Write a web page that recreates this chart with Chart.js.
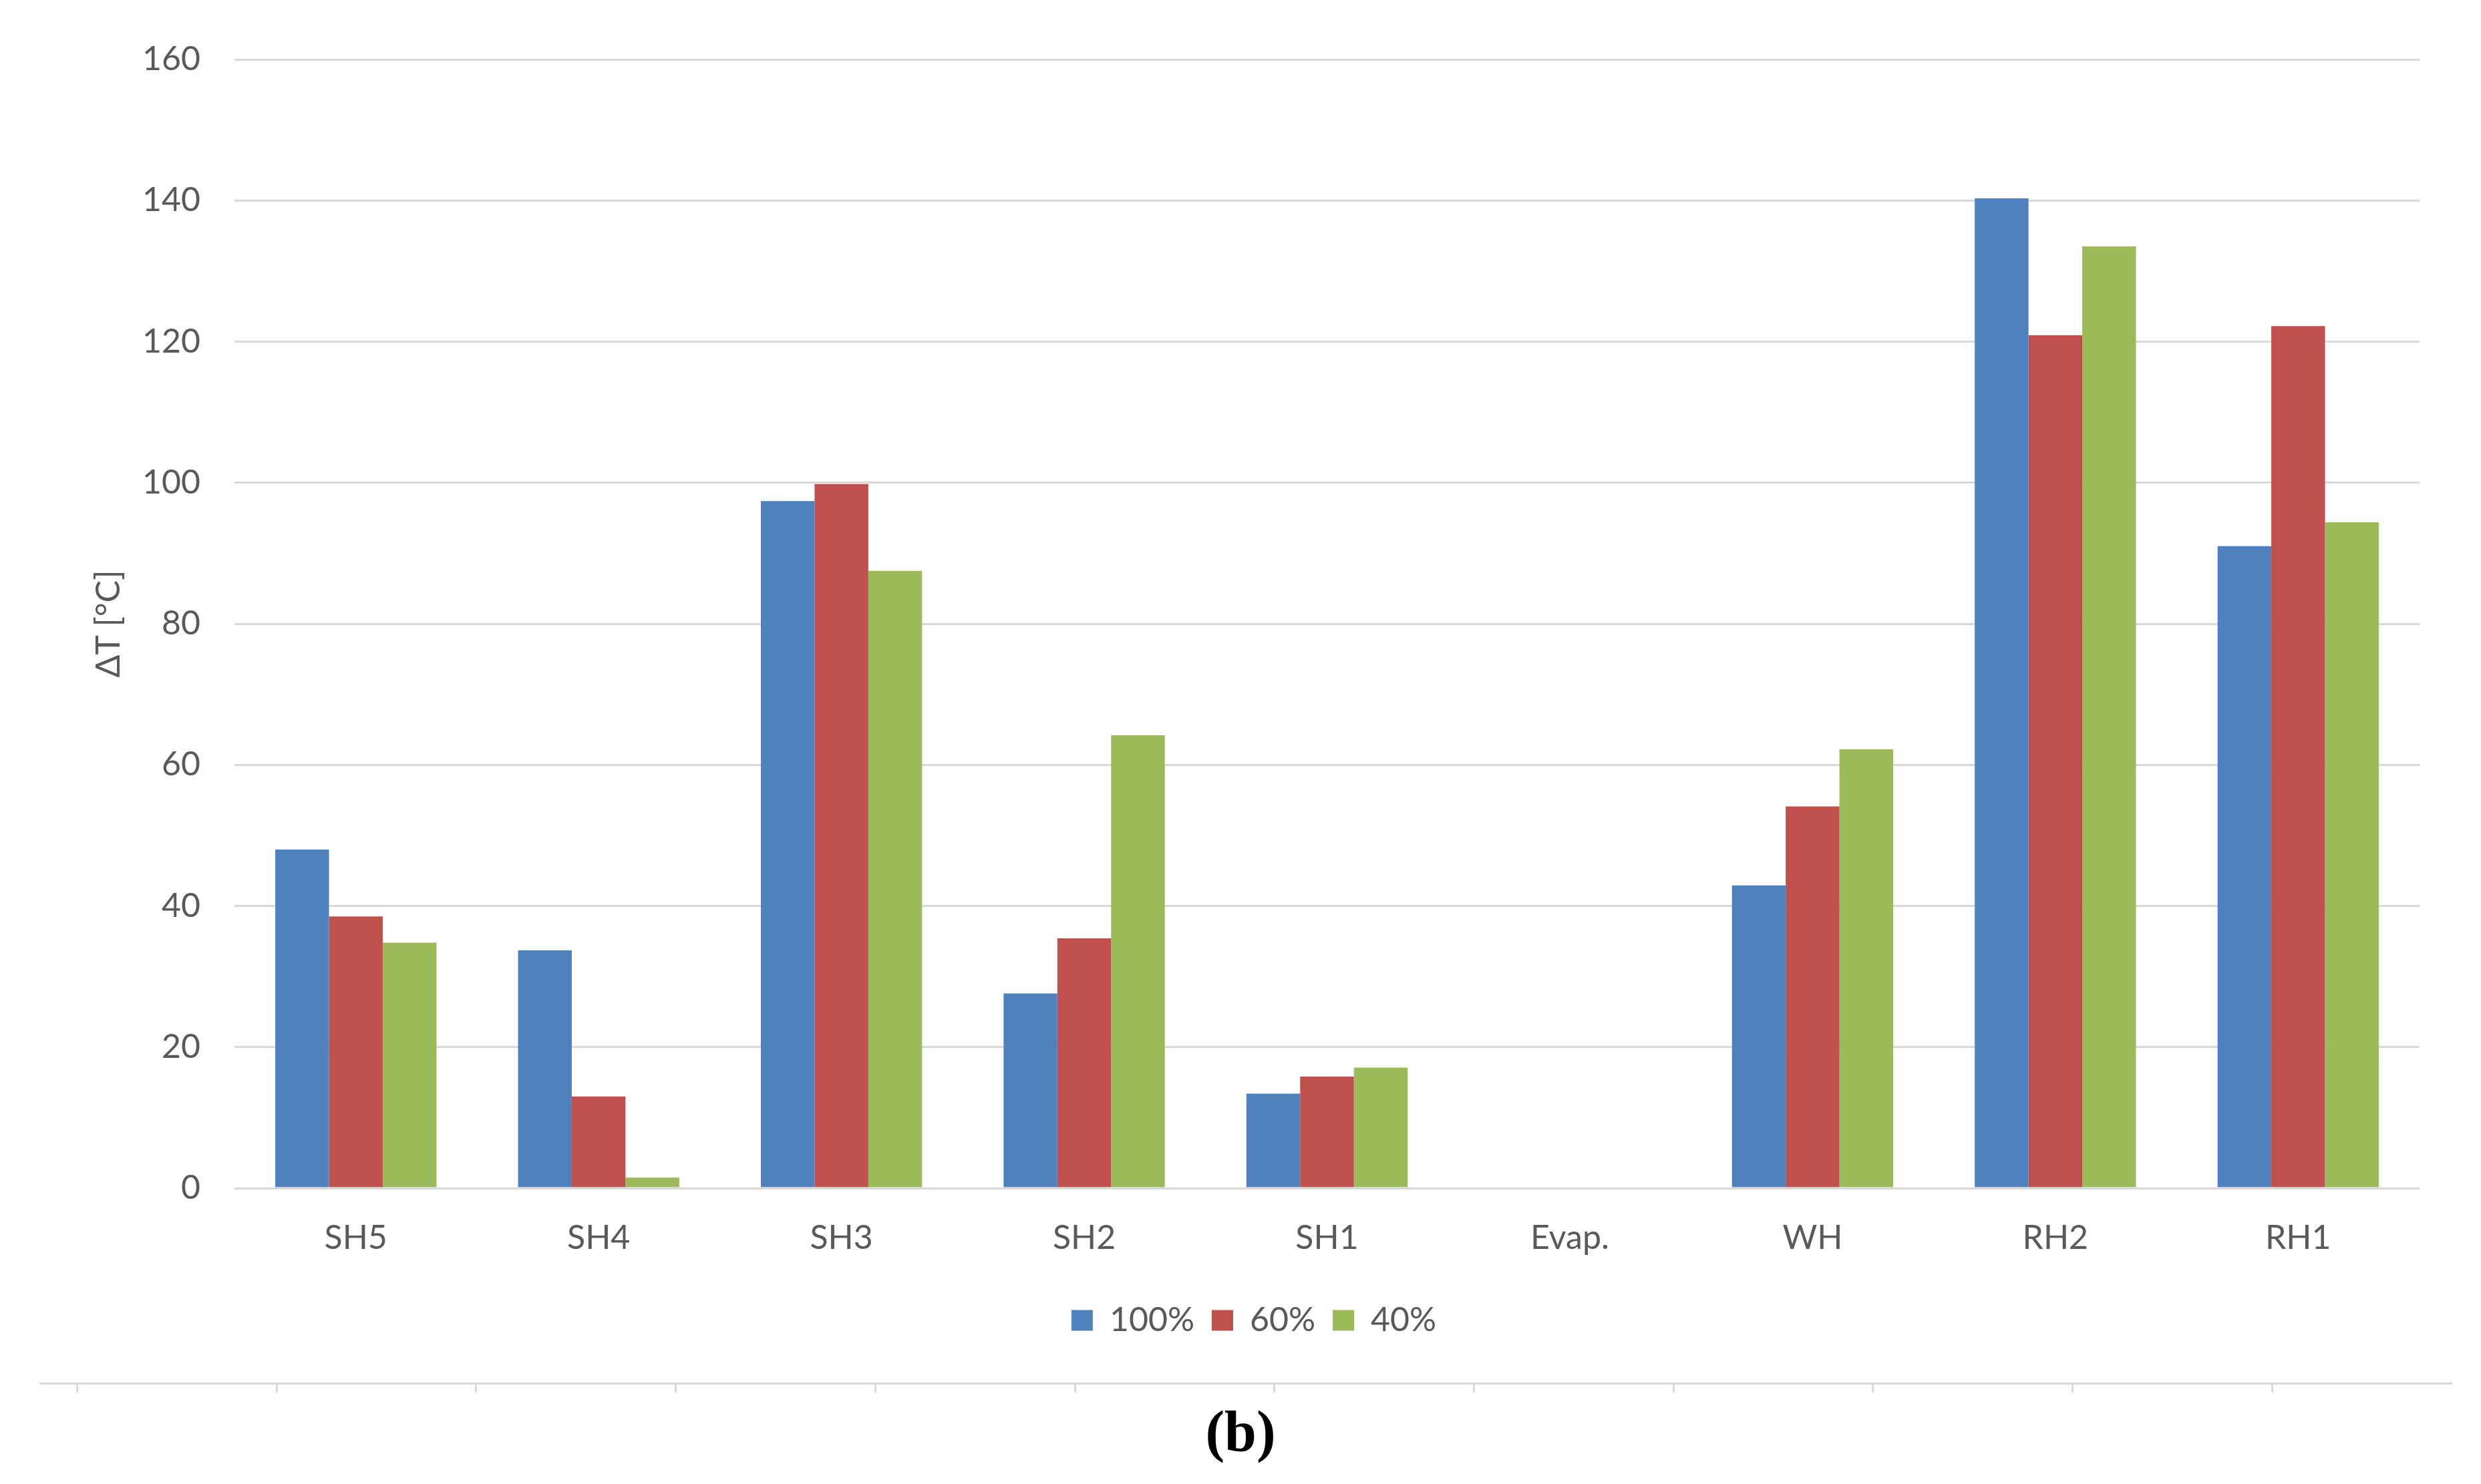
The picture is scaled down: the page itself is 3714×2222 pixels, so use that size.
<!DOCTYPE html>
<html>
<head>
<meta charset="utf-8">
<script src="https://cdn.jsdelivr.net/npm/chart.js@4.4.1/dist/chart.umd.min.js"></script>
<style>
  html, body { margin: 0; padding: 0; background: #ffffff; }
  #wrap { position: relative; width: 3714px; height: 2222px; overflow: hidden; background: #ffffff; }
  #chart { position: absolute; left: 0; top: 0; }
  #frame { position: absolute; left: 59px; top: 2070px; width: 3612px; height: 3px; background: #d9d9d9; }
  .ftick { position: absolute; top: 2073px; width: 3px; height: 12px; background: #d9d9d9; }
  #caption { position: absolute; left: 0; top: 2100px; width: 3714px; text-align: center;
             font-family: "Liberation Serif", "DejaVu Serif", serif; font-weight: bold;
             font-size: 86px; line-height: 86px; color: #000; }
</style>
</head>
<body>
<div id="wrap">
  <canvas id="chart" width="3714" height="2222"></canvas>
  <div id="frame"></div>
  <div id="caption">(b)</div>
</div>
<script>
// ---- data ----
const categories = ['SH5', 'SH4', 'SH3', 'SH2', 'SH1', 'Evap.', 'WH', 'RH2', 'RH1'];
const seriesNames = ['100%', '60%', '40%'];
const load100 = [48.0, 33.7, 97.4, 27.6, 13.4, 0, 42.9, 140.3, 91.0];
const load60  = [38.5, 13.0, 99.8, 35.4, 15.8, 0, 54.1, 120.9, 122.2];
const load40  = [34.8, 1.5, 87.5, 64.2, 17.1, 0, 62.2, 133.5, 94.4];
const yTickValues = [0, 20, 40, 60, 80, 100, 120, 140, 160];
const yAxisTitle = 'ΔT [°C]';
const seriesColors = ['#4F81BD', '#C0504D', '#9BBB59'];

// decorative frame ticks under the figure
(function () {
  const wrap = document.getElementById('wrap');
  for (let k = 0; k < 12; k++) {
    const t = document.createElement('div');
    t.className = 'ftick';
    t.style.left = (114 + k * 298.7) + 'px';
    wrap.appendChild(t);
  }
})();

function build() {
  Chart.defaults.font.family = 'Lato, "Open Sans", "Liberation Sans", sans-serif';
  Chart.defaults.font.size = 50;
  Chart.defaults.color = '#595959';

  const seriesData = [load100, load60, load40];
  const datasets = seriesNames.map((name, i) => ({
    label: name,
    data: seriesData[i],
    backgroundColor: seriesColors[i],
    borderWidth: 0,
    categoryPercentage: 0.664,
    barPercentage: 1.0
  }));

  new Chart(document.getElementById('chart'), {
    type: 'bar',
    data: { labels: categories, datasets: datasets },
    options: {
      responsive: false,
      animation: false,
      devicePixelRatio: 1,
      layout: { padding: { left: 132, right: 92, top: 89, bottom: 210 } },
      plugins: {
        legend: {
          position: 'bottom',
          labels: {
            boxWidth: 32,
            boxHeight: 31,
            padding: 26,
            color: '#595959',
            font: { size: 50 }
          }
        },
        tooltip: { enabled: false },
        title: { display: false }
      },
      scales: {
        x: {
          grid: { display: false, drawTicks: false },
          border: { display: false },
          ticks: { padding: 45, color: '#595959', font: { size: 50 }, maxRotation: 0, autoSkip: false },
          afterFit: (s) => { s.height = 147; }
        },
        y: {
          min: 0,
          max: 160,
          afterBuildTicks: (s) => { s.ticks = yTickValues.map(v => ({ value: v })); },
          grid: { color: '#d9d9d9', lineWidth: 3, drawTicks: false },
          border: { display: false },
          ticks: { padding: 51, color: '#595959', font: { size: 50 } },
          title: { display: true, text: yAxisTitle, color: '#595959', font: { size: 50 }, padding: { top: 1, bottom: 0 } },
          afterFit: (s) => { s.width = 219; }
        }
      }
    }
  });
}

if (document.fonts && document.fonts.load) {
  Promise.all([document.fonts.load('50px Lato'), document.fonts.load('bold 86px "Liberation Serif"')])
    .then(build, build);
} else {
  build();
}
</script>
</body>
</html>
